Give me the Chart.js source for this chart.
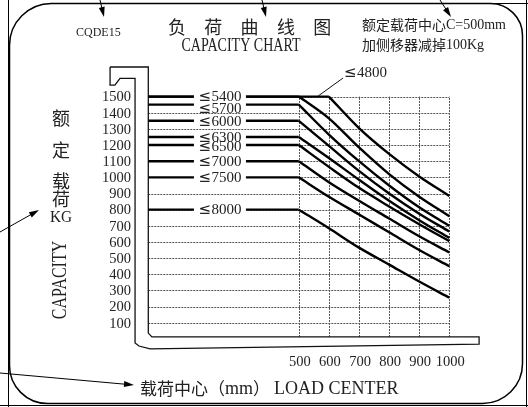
<!DOCTYPE html>
<html>
<head>
<meta charset="utf-8">
<script src="https://cdn.jsdelivr.net/npm/chart.js@4"></script>
<style>
  html, body { margin: 0; padding: 0; background: #fff; }
  canvas { display: block; }
</style>
</head>
<body>
<canvas id="load-chart" width="528" height="407"></canvas>
<script>
// load centre (mm) where capacity is read
const loadCenter = [0, 500, 600, 700, 800, 900, 1000];

// capacity (kg) per lift height curve
const cap4800 = [1500, 1500, 1500, 1305, 1145, 1005, 885];
const cap5400 = [1500, 1500, 1365, 1185, 1020, 880, 760];
const cap5700 = [1450, 1450, 1265, 1100, 950, 815, 700];
const cap6000 = [1350, 1350, 1195, 1040, 900, 775, 665];
const cap6300 = [1250, 1250, 1120, 985, 855, 735, 625];
const cap6500 = [1200, 1200, 1065, 935, 820, 710, 605];
const cap7000 = [1100, 1100, 970, 855, 745, 635, 535];
const cap7500 = [1000, 1000, 880, 770, 660, 550, 450];
const cap8000 = [800, 800, 685, 565, 460, 355, 255];

const curveNames = ["4800", "5400", "5700", "6000", "6300", "6500", "7000", "7500", "8000"];
const curveValues = [cap4800, cap5400, cap5700, cap6000, cap6300, cap6500, cap7000, cap7500, cap8000];

// tick labels
const yTicks = [100, 200, 300, 400, 500, 600, 700, 800, 900, 1000, 1100, 1200, 1300, 1400, 1500];
const xTicks = [500, 600, 700, 800, 900, 1000];

// fork / mast outline in chart units
const forkX = [-127, 0, 0, 12, 1099, 1099, 6, -31, -44, -44, -94, -111, -127, -127];
const forkY = [1683, 1683, 36, 12, 12, -32, -62, -44, -25, 1613, 1613, 1571, 1571, 1683];

const SERIF = '"Liberation Serif", "DejaVu Serif", serif';
const CJK = '"Noto Sans CJK SC", "Noto Sans CJK JP", sans-serif';
const INK = '#222';

function toPoints(xs, ys) {
    return xs.map((v, i) => ({x: v, y: ys[i]}));
}

// each curve: flat part up to where it starts falling, then a smooth falling part
const datasets = [];
curveValues.forEach((vals, i) => {
    let k = 1;
    while (k + 1 < vals.length && vals[k + 1] === vals[k]) k++;
    const pts = toPoints(loadCenter, vals);
    datasets.push({
        label: "≤" + curveNames[i] + " flat",
        data: pts.slice(0, k + 1),
        borderColor: "#000", borderWidth: 2.4, pointRadius: 0, tension: 0, fill: false
    });
    datasets.push({
        label: "≤" + curveNames[i],
        data: pts.slice(k),
        borderColor: "#000", borderWidth: 2.4, pointRadius: 0,
        cubicInterpolationMode: "monotone", fill: false
    });
});
datasets.push({
    label: "fork",
    data: toPoints(forkX, forkY),
    borderColor: "#111",
    borderWidth: 1.3,
    pointRadius: 0,
    tension: 0,
    fill: false
});

// draw a run of text pieces, each with its own font
function drawRun(ctx, parts, x, y, align) {
    let total = 0;
    parts.forEach(p => { ctx.font = p[1]; total += ctx.measureText(p[0]).width + (p[2] || 0); });
    let cx = align === 'center' ? x - total / 2 : (align === 'right' ? x - total : x);
    ctx.textAlign = 'left';
    parts.forEach(p => {
        ctx.font = p[1];
        ctx.fillText(p[0], cx, y);
        cx += ctx.measureText(p[0]).width + (p[2] || 0);
    });
    return total;
}

function arrow(ctx, x1, y1, x2, y2) {
    const a = Math.atan2(y2 - y1, x2 - x1);
    ctx.beginPath();
    ctx.moveTo(x1, y1);
    ctx.lineTo(x2 - 8 * Math.cos(a), y2 - 8 * Math.sin(a));
    ctx.stroke();
    ctx.beginPath();
    ctx.moveTo(x2, y2);
    ctx.lineTo(x2 - 10 * Math.cos(a) + 3 * Math.sin(a), y2 - 10 * Math.sin(a) - 3 * Math.cos(a));
    ctx.lineTo(x2 - 10 * Math.cos(a) - 3 * Math.sin(a), y2 - 10 * Math.sin(a) + 3 * Math.cos(a));
    ctx.closePath();
    ctx.fill();
}

const chartDecor = {
    id: 'chartDecor',
    beforeDraw(chart) {
        const ctx = chart.ctx;
        ctx.save();
        ctx.fillStyle = '#fff';
        ctx.fillRect(0, 0, chart.width, chart.height);
        ctx.restore();
    },
    beforeDatasetsDraw(chart) {
        const {ctx, scales: {x, y}} = chart;
        ctx.save();
        ctx.strokeStyle = '#555';
        ctx.lineWidth = 1;
        ctx.setLineDash([2, 1]);
        yTicks.forEach(v => {
            const py = Math.round(y.getPixelForValue(v)) + 0.5;
            ctx.beginPath();
            ctx.moveTo(x.getPixelForValue(0), py);
            ctx.lineTo(x.getPixelForValue(1000), py);
            ctx.stroke();
        });
        xTicks.forEach(v => {
            const px = Math.round(x.getPixelForValue(v)) + 0.5;
            ctx.beginPath();
            ctx.moveTo(px, y.getPixelForValue(12));
            ctx.lineTo(px, y.getPixelForValue(1500));
            ctx.stroke();
        });
        ctx.restore();
    },
    afterDatasetsDraw(chart) {
        const {ctx, scales: {x, y}} = chart;
        ctx.save();
        ctx.fillStyle = INK;
        ctx.textBaseline = 'middle';

        // curve labels sitting on the flat parts
        const nudge = [0, 0, 4, 1, 1, 2, 0, 0, 0];
        const lx = x.getPixelForValue(238);
        const labelParts = i => [["≤", '15px "DejaVu Sans"', 0.5], [curveNames[i], '15px ' + SERIF]];
        for (let i = 1; i < curveNames.length; i++) {
            ctx.font = '15px ' + SERIF;
            const w = ctx.measureText(curveNames[i]).width + 14;
            const ly = y.getPixelForValue(curveValues[i][0]);
            ctx.fillStyle = '#fff';
            ctx.fillRect(lx - w / 2 - 4, ly - 2.5, w + 8, 5);
        }
        ctx.fillStyle = INK;
        for (let i = 1; i < curveNames.length; i++) {
            const ly = y.getPixelForValue(curveValues[i][0]) + nudge[i];
            drawRun(ctx, labelParts(i), lx, ly + 0.5, 'center');
        }
        // 4800 label with leader line
        ctx.strokeStyle = '#111';
        ctx.lineWidth = 1;
        ctx.beginPath();
        ctx.moveTo(x.getPixelForValue(564), y.getPixelForValue(1503));
        ctx.lineTo(x.getPixelForValue(647), y.getPixelForValue(1615));
        ctx.stroke();
        drawRun(ctx, labelParts(0), x.getPixelForValue(650), y.getPixelForValue(1646), 'left');

        // tick labels
        ctx.font = '14.5px ' + SERIF;
        ctx.textAlign = 'right';
        yTicks.forEach(v => ctx.fillText(String(v), 131, y.getPixelForValue(v) + 1));
        ctx.textAlign = 'center';
        xTicks.forEach(v => ctx.fillText(String(v), x.getPixelForValue(v) + 1, 362));

        // titles
        ctx.font = '12px ' + SERIF;
        ctx.textAlign = 'left';
        ctx.fillText('CQDE15', 76, 33);

        ctx.font = '18px ' + CJK;
        ctx.textAlign = 'center';
        const titleChars = ['负', '荷', '曲', '线', '图'];
        titleChars.forEach((c, i) => ctx.fillText(c, 177 + i * 36.3, 27));

        ctx.save();
        ctx.translate(241, 46);
        ctx.scale(0.78, 1);
        ctx.font = '18px ' + SERIF;
        ctx.fillText('CAPACITY CHART', 0, 0);
        ctx.restore();

        drawRun(ctx, [['额定载荷中心', '14px ' + CJK], ['C=500mm', '14px ' + SERIF]], 362, 25, 'left');
        drawRun(ctx, [['加侧移器减掉', '14px ' + CJK], ['100Kg', '14px ' + SERIF]], 362, 45, 'left');

        // vertical axis title
        ctx.textAlign = 'center';
        ctx.font = '18px ' + CJK;
        [['额', 118], ['定', 150], ['载', 181], ['荷', 199]].forEach(p => ctx.fillText(p[0], 61, p[1]));
        ctx.save();
        ctx.translate(61, 218);
        ctx.scale(0.9, 1);
        ctx.font = '17px ' + SERIF;
        ctx.fillText('KG', 0, 0);
        ctx.restore();
        ctx.save();
        ctx.translate(60, 280);
        ctx.rotate(-Math.PI / 2);
        ctx.scale(0.76, 1);
        ctx.font = '21px ' + SERIF;
        ctx.fillText('CAPACITY', 0, 0);
        ctx.restore();

        // horizontal axis title
        drawRun(ctx, [['载荷中心（', '17px ' + CJK], ['mm', '18px ' + SERIF], ['）', '17px ' + CJK, 4],
                      ['LOAD CENTER', '18px ' + SERIF]], 140, 389, 'left');

        // frame
        ctx.strokeStyle = '#000';
        ctx.lineWidth = 1.5;
        ctx.beginPath();
        ctx.roundRect(9.5, 3.5, 513, 400, [42, 32, 40, 38]);
        ctx.stroke();
        ctx.lineWidth = 1;
        ctx.beginPath();
        ctx.moveTo(8.5, 0); ctx.lineTo(8.5, 407);
        ctx.moveTo(526.5, 0); ctx.lineTo(526.5, 407);
        ctx.moveTo(0, 405.5); ctx.lineTo(528, 405.5);
        ctx.moveTo(470, 3.5); ctx.lineTo(528, 3.5);
        ctx.stroke();

        // leader arrows
        ctx.fillStyle = '#000';
        ctx.lineWidth = 1;
        arrow(ctx, 100, 0, 104, 17);
        arrow(ctx, 262, 0, 266, 17);
        arrow(ctx, 440, 0, 451, 17);
        arrow(ctx, 0, 232, 39, 210);
        arrow(ctx, 0, 373, 134, 385);
        ctx.restore();
    }
};

new Chart("load-chart", {
    type: "line",
    data: {datasets: datasets},
    options: {
        responsive: false,
        animation: false,
        layout: {padding: {left: 103.15, right: 33.55, top: 56.2, bottom: 51.94}},
        plugins: {legend: {display: false}, tooltip: {enabled: false}},
        scales: {
            x: {type: "linear", min: -150, max: 1150, display: false},
            y: {type: "linear", min: -100, max: 1750, display: false}
        }
    },
    plugins: [chartDecor]
});
</script>
</body>
</html>
